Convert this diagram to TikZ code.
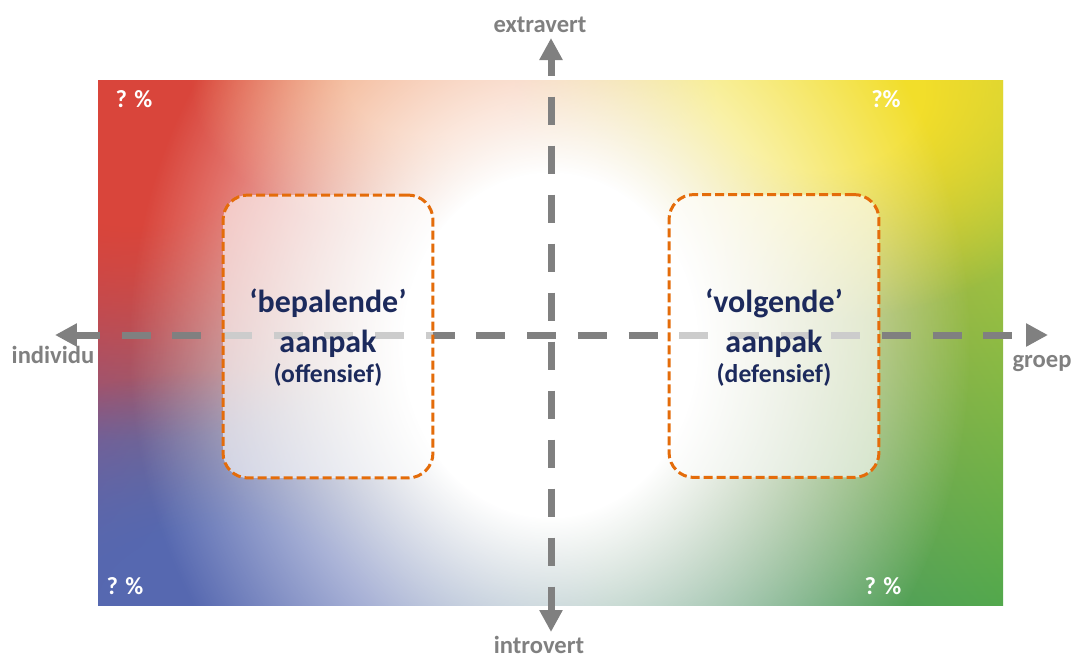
\documentclass[tikz,border=0pt]{standalone}
\usepackage{fontspec}
\setmainfont{Carlito}
\usetikzlibrary{arrows.meta,fadings,shadings}
\definecolor{redcorner}{HTML}{D9453B}
\definecolor{yellowcorner}{HTML}{C9CE3A}
\definecolor{bluecorner}{HTML}{5668B0}
\definecolor{greencorner}{HTML}{52A84C}
\definecolor{yellowglow}{HTML}{F2DE2A}
\definecolor{orangeglow}{HTML}{EE9260}
\definecolor{axisgray}{HTML}{808080}
\definecolor{boxorange}{HTML}{E46C0A}
\definecolor{navy}{HTML}{1C2A5C}
\pgfdeclareradialshading{glowshade}{\pgfpointorigin}{color(0bp)=(white); color(8.75bp)=(white); color(25bp)=(black); color(50bp)=(black)}
\pgfdeclarefading{glow}{\pgfuseshading{glowshade}}
\begin{document}
\begin{tikzpicture}[x=.02cm,y=-.02cm,
  axis/.style={draw=axisgray,line width=.14cm,{Triangle[length=.44cm,width=.44cm]}-{Triangle[length=.44cm,width=.44cm]}},
  axlabel/.style={text=axisgray,font=\fontsize{14}{16}\selectfont\bfseries,anchor=base},
  pct/.style={text=white,font=\fontsize{14}{16}\selectfont\bfseries,anchor=base},
  aanpakbox/.style={draw=boxorange,line width=.06cm,dash pattern=on .18cm off .08cm,rounded corners=.5cm,
    fill=white,fill opacity=.6,minimum width=4.2cm,minimum height=5.66cm},
  boxtitle/.style={text=navy,font=\fontsize{18.2}{20}\selectfont\bfseries,anchor=base},
  boxsub/.style={text=navy,font=\fontsize{14.6}{16}\selectfont\bfseries,anchor=base}]
\useasboundingbox (0,0) rectangle (1075,660);
\shade[upper left=redcorner,upper right=yellowcorner,lower left=bluecorner,lower right=greencorner] (98,80) rectangle (1003,605);
\begin{scope}
\clip (98,80) rectangle (1003,605);
\fill[redcorner,path fading=glow] (130,110) ellipse (380 and 330);
\fill[orangeglow,path fading=glow] (430,80) ellipse (240 and 160);
\fill[yellowglow,path fading=glow] (820,90) ellipse (300 and 230);
\fill[bluecorner,path fading=glow] (230,610) ellipse (380 and 240);
\fill[white,path fading=glow] (550,345) ellipse (420 and 490);
\end{scope}
\coordinate (west) at (55,335);\coordinate (east) at (1048,335);
\coordinate (north) at (551,38);\coordinate (south) at (551,632);
\draw[axis,dash pattern=on .58cm off .434cm,dash phase=.094cm] (west) -- (east);
\draw[axis,dash pattern=on .56cm off .42cm,dash phase=.22cm] (north) -- (south);
\node[axlabel] (extravert) at (540,32) {extravert};
\node[axlabel] (introvert) at (539,653) {introvert};
\node[axlabel] (individu) at (53,363) {individu};
\node[axlabel] (groep) at (1042,367) {groep};
\node[pct] (pctUL) at (134,107) {? \%};\node[pct] (pctUR) at (886,107) {?\%};
\node[pct] (pctLL) at (125,594) {? \%};\node[pct] (pctLR) at (883,594) {? \%};
\node[aanpakbox] (bepalend) at (328,336.5) {};
\node[aanpakbox] (volgend) at (774,336) {};
\node[boxtitle] (bepalendT) at (328,312) {‘bepalende’};
\node[boxtitle] (bepalendA) at (328,352) {aanpak};
\node[boxsub] (bepalendS) at (328,382) {(offensief)};
\node[boxtitle] (volgendT) at (774,312) {‘volgende’};
\node[boxtitle] (volgendA) at (774,352) {aanpak};
\node[boxsub] (volgendS) at (774,382) {(defensief)};
\end{tikzpicture}
\end{document}
